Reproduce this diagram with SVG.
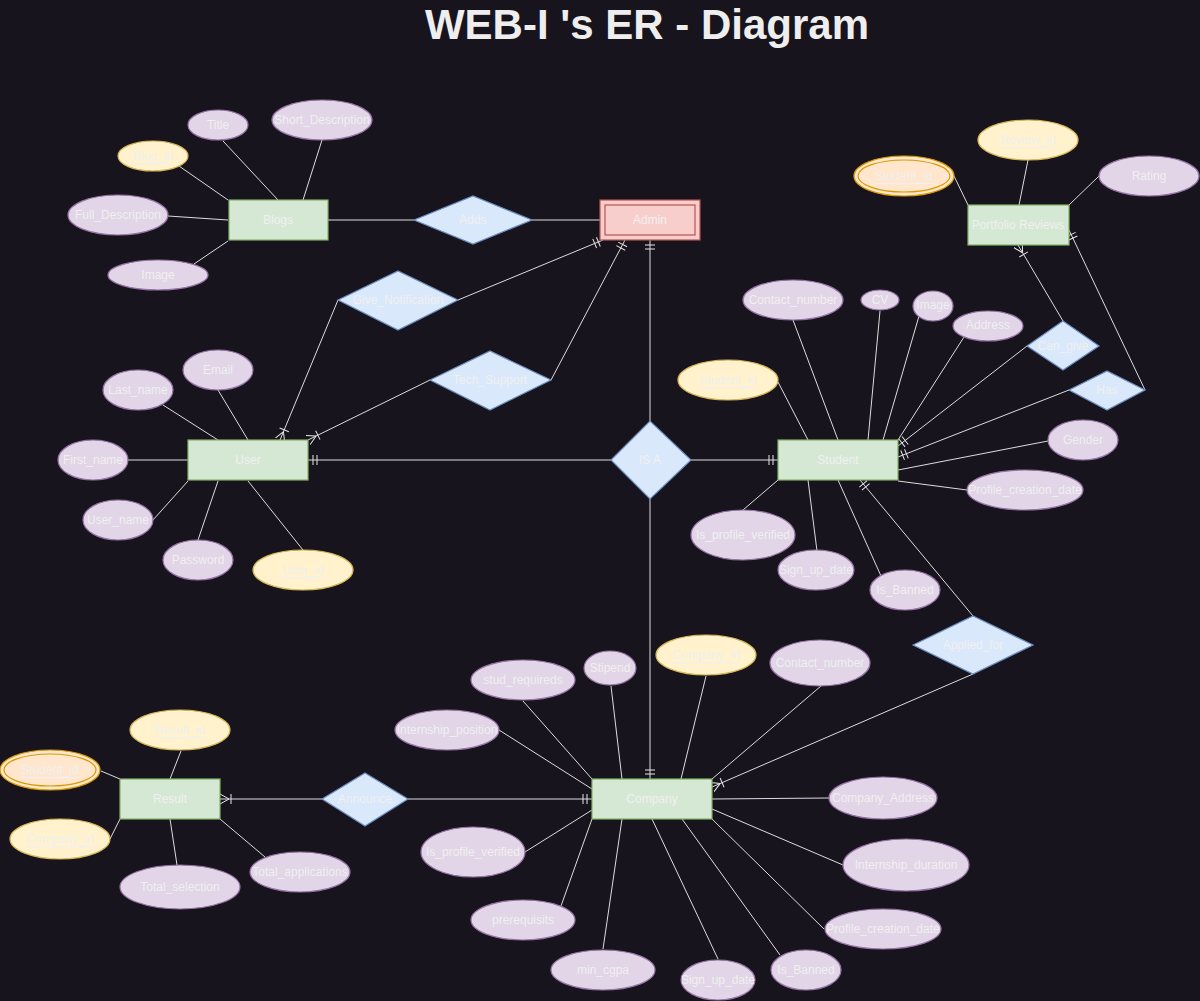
<svg xmlns="http://www.w3.org/2000/svg" width="1200" height="1001" viewBox="0 0 1200 1001">
<style>
.ent{fill:#d5e8d4;stroke:#82b366;stroke-width:1.2}
.adm{fill:#f8cecc;stroke:#b85450;stroke-width:1.2}
.rel{fill:#dae8fc;stroke:#6c8ebf;stroke-width:1.2}
.att{fill:#e1d5e7;stroke:#9673a6;stroke-width:1.2}
.key{fill:#fff2cc;stroke:#d6b656;stroke-width:1.2}
.wk{fill:#ffe6cc;stroke:#d79b00;stroke-width:1.2}
text{font-family:"Liberation Sans",Arial,sans-serif;font-size:12px;fill:#f0f0f0;text-anchor:middle;dominant-baseline:central}
.u{text-decoration:underline}
.title{font-size:42px;font-weight:bold;fill:#eeeeee}
.ln{stroke:#dcdcdc;stroke-width:1;fill:none}
.mk{stroke:#e6e6e6;stroke-width:1;fill:none}
</style>
<defs>
<marker id="one" markerUnits="userSpaceOnUse" markerWidth="14" markerHeight="14" viewBox="0 -7 14 14" refX="14" refY="0" orient="auto">
<path class="mk" d="M5,-5V5M9,-5V5"/>
</marker>
<marker id="many" markerUnits="userSpaceOnUse" markerWidth="14" markerHeight="14" viewBox="0 -7 14 14" refX="14" refY="0" orient="auto">
<path class="mk" d="M5,0L14,-5M5,0L14,5M3,-5V5"/>
</marker>
</defs>
<rect width="1200" height="1001" fill="#18141d"/>
<text class="title" x="647" y="24">WEB-I 's ER - Diagram</text>

<g id="connectors">
<!-- Blogs attrs -->
<line class="ln" x1="179" y1="166" x2="228" y2="200"/>
<line class="ln" x1="223" y1="141" x2="278" y2="200"/>
<line class="ln" x1="322" y1="140" x2="303" y2="200"/>
<line class="ln" x1="168" y1="216" x2="228" y2="220"/>
<line class="ln" x1="194" y1="264" x2="228" y2="241"/>
<line class="ln" x1="328" y1="220" x2="414" y2="220"/>
<line class="ln" x1="532" y1="220" x2="600" y2="220"/>
<!-- Portfolio attrs -->
<line class="ln" x1="954" y1="176" x2="968" y2="205"/>
<line class="ln" x1="1028" y1="160" x2="1019" y2="205"/>
<line class="ln" x1="1099" y1="176" x2="1069" y2="205"/>
<!-- User attrs -->
<line class="ln" x1="218" y1="390" x2="248" y2="440"/>
<line class="ln" x1="163" y1="405" x2="218" y2="440"/>
<line class="ln" x1="128" y1="460" x2="188" y2="460"/>
<line class="ln" x1="153" y1="520" x2="188" y2="481"/>
<line class="ln" x1="198" y1="540" x2="218" y2="481"/>
<line class="ln" x1="303" y1="550" x2="248" y2="481"/>
<!-- User / Admin relationships -->
<line class="ln" x1="338" y1="300" x2="280" y2="440" marker-end="url(#many)"/>
<line class="ln" x1="458" y1="300" x2="603" y2="240" marker-end="url(#one)"/>
<line class="ln" x1="430" y1="380" x2="308" y2="440" marker-end="url(#many)"/>
<line class="ln" x1="551" y1="380" x2="625" y2="240" marker-end="url(#one)"/>
<!-- IS A -->
<line class="ln" x1="650" y1="421" x2="650" y2="240" marker-end="url(#one)"/>
<line class="ln" x1="611" y1="460" x2="308" y2="460" marker-end="url(#one)"/>
<line class="ln" x1="691" y1="460" x2="778" y2="460" marker-end="url(#one)"/>
<line class="ln" x1="650" y1="499" x2="650" y2="779" marker-end="url(#one)"/>
<!-- Student attrs -->
<line class="ln" x1="793" y1="320" x2="838" y2="440"/>
<line class="ln" x1="880" y1="311" x2="868" y2="440"/>
<line class="ln" x1="919" y1="316" x2="883" y2="440"/>
<line class="ln" x1="964" y1="337" x2="898" y2="440"/>
<line class="ln" x1="1048" y1="441" x2="898" y2="470"/>
<line class="ln" x1="967" y1="490" x2="898" y2="481"/>
<line class="ln" x1="778" y1="382" x2="808" y2="440"/>
<line class="ln" x1="743" y1="510" x2="778" y2="480"/>
<line class="ln" x1="817" y1="551" x2="808" y2="480"/>
<line class="ln" x1="881" y1="576" x2="838" y2="480"/>
<!-- Student relationships -->
<line class="ln" x1="1027" y1="346" x2="898" y2="446" marker-end="url(#one)"/>
<line class="ln" x1="1069" y1="390" x2="898" y2="457" marker-end="url(#one)"/>
<line class="ln" x1="1063" y1="321" x2="1018" y2="245" marker-end="url(#many)"/>
<line class="ln" x1="1145" y1="390" x2="1069" y2="230" marker-end="url(#one)"/>
<line class="ln" x1="973" y1="616" x2="860" y2="480" marker-end="url(#one)"/>
<line class="ln" x1="973" y1="674" x2="712" y2="787" marker-end="url(#many)"/>
<!-- Company attrs -->
<line class="ln" x1="611" y1="686" x2="622" y2="779"/>
<line class="ln" x1="523" y1="701" x2="592" y2="779"/>
<line class="ln" x1="499" y1="730" x2="592" y2="789"/>
<line class="ln" x1="706" y1="676" x2="681" y2="779"/>
<line class="ln" x1="821" y1="686" x2="712" y2="779"/>
<line class="ln" x1="829" y1="798" x2="712" y2="799"/>
<line class="ln" x1="525" y1="852" x2="592" y2="810"/>
<line class="ln" x1="561" y1="906" x2="592" y2="819"/>
<line class="ln" x1="603" y1="949" x2="622" y2="819"/>
<line class="ln" x1="718" y1="959" x2="652" y2="819"/>
<line class="ln" x1="780" y1="955" x2="682" y2="819"/>
<line class="ln" x1="824" y1="929" x2="712" y2="819"/>
<line class="ln" x1="843" y1="865" x2="712" y2="809"/>
<!-- Result -->
<line class="ln" x1="181" y1="751" x2="170" y2="779"/>
<line class="ln" x1="101" y1="771" x2="120" y2="779"/>
<line class="ln" x1="110" y1="839" x2="120" y2="819"/>
<line class="ln" x1="177" y1="865" x2="170" y2="819"/>
<line class="ln" x1="265" y1="857" x2="220" y2="819"/>
<line class="ln" x1="322" y1="799" x2="220" y2="799" marker-end="url(#many)"/>
<line class="ln" x1="408" y1="799" x2="592" y2="799" marker-end="url(#one)"/>
</g>

<!-- Entities -->
<g id="blogs"><rect class="ent" x="229" y="200" width="99" height="40"/><text x="278" y="220">Blogs</text></g>
<g id="admin"><rect class="adm" x="600" y="200" width="100" height="40"/><rect class="adm" x="605" y="205" width="90" height="30"/><text x="650" y="220">Admin</text></g>
<g id="portfolio"><rect class="ent" x="968" y="205" width="101" height="40"/><text x="1018" y="225">Portfolio Reviews</text></g>
<g id="user"><rect class="ent" x="188" y="440" width="120" height="40"/><text x="248" y="460">User</text></g>
<g id="student"><rect class="ent" x="778" y="440" width="120" height="40"/><text x="838" y="460">Student</text></g>
<g id="result"><rect class="ent" x="120" y="779" width="100" height="40"/><text x="170" y="799">Result</text></g>
<g id="company"><rect class="ent" x="592" y="779" width="120" height="40"/><text x="652" y="799">Company</text></g>

<!-- Relationships -->
<g id="adds"><polygon class="rel" points="414,220 473,196 532,220 473,244"/><text x="473" y="220">Adds</text></g>
<g id="give_notification"><polygon class="rel" points="338,300 398,271 458,300 398,330"/><text x="398" y="300">Give_Notification</text></g>
<g id="tech_support"><polygon class="rel" points="430,380 490,351 551,380 490,410"/><text x="490" y="380">Tech_Support</text></g>
<g id="is_a"><polygon class="rel" points="611,460 650,421 691,460 650,499"/><text x="650" y="460">IS A</text></g>
<g id="can_give"><polygon class="rel" points="1027,346 1063,321 1099,346 1063,370"/><text x="1063" y="346">Can_give</text></g>
<g id="has"><polygon class="rel" points="1069,390 1107,371 1145,390 1107,410"/><text x="1107" y="390">Has</text></g>
<g id="applied_for"><polygon class="rel" points="913,645 973,616 1033,645 973,674"/><text x="973" y="645">Applied_for</text></g>
<g id="announce"><polygon class="rel" points="322,799 365,773 408,799 365,826"/><text x="365" y="799">Announce</text></g>

<!-- Blogs attributes -->
<g id="blog_id"><ellipse class="key" cx="153" cy="156" rx="35" ry="15"/><text class="u" x="153" y="156">Blog_id</text></g>
<g id="blog_title"><ellipse class="att" cx="218" cy="125" rx="30" ry="15"/><text x="218" y="125">Title</text></g>
<g id="blog_short"><ellipse class="att" cx="322" cy="120" rx="50" ry="20"/><text x="322" y="120">Short_Description</text></g>
<g id="blog_full"><ellipse class="att" cx="118" cy="215" rx="50" ry="20"/><text x="118" y="215">Full_Description</text></g>
<g id="blog_image"><ellipse class="att" cx="158" cy="275" rx="50" ry="15"/><text x="158" y="275">Image</text></g>

<!-- Portfolio attributes -->
<g id="pr_student_id"><ellipse class="wk" cx="904" cy="176" rx="50" ry="20"/><ellipse class="wk" cx="904" cy="176" rx="46" ry="16"/><text class="u" x="904" y="176">Student_id</text></g>
<g id="pr_review_id"><ellipse class="key" cx="1028" cy="140" rx="50" ry="20"/><text class="u" x="1028" y="140">Review_id</text></g>
<g id="pr_rating"><ellipse class="att" cx="1149" cy="176" rx="50" ry="20"/><text x="1149" y="176">Rating</text></g>

<!-- User attributes -->
<g id="u_email"><ellipse class="att" cx="218" cy="370" rx="35" ry="20"/><text x="218" y="370">Email</text></g>
<g id="u_last"><ellipse class="att" cx="138" cy="390" rx="35" ry="20"/><text x="138" y="390">Last_name</text></g>
<g id="u_first"><ellipse class="att" cx="93" cy="460" rx="35" ry="20"/><text x="93" y="460">First_name</text></g>
<g id="u_username"><ellipse class="att" cx="118" cy="520" rx="35" ry="20"/><text x="118" y="520">User_name</text></g>
<g id="u_password"><ellipse class="att" cx="198" cy="560" rx="35" ry="20"/><text x="198" y="560">Password</text></g>
<g id="u_id"><ellipse class="key" cx="303" cy="570" rx="50" ry="20"/><text class="u" x="303" y="570">User_id</text></g>

<!-- Student attributes -->
<g id="s_contact"><ellipse class="att" cx="793" cy="300" rx="50" ry="20"/><text x="793" y="300">Contact_number</text></g>
<g id="s_cv"><ellipse class="att" cx="880" cy="300" rx="19" ry="10"/><text x="880" y="300">CV</text></g>
<g id="s_image"><ellipse class="att" cx="933" cy="306" rx="20" ry="15"/><text x="933" y="305">Image</text></g>
<g id="s_address"><ellipse class="att" cx="988" cy="326" rx="35" ry="15"/><text x="988" y="325">Address</text></g>
<g id="s_id"><ellipse class="key" cx="728" cy="380" rx="50" ry="20"/><text class="u" x="728" y="380">Student_id</text></g>
<g id="s_gender"><ellipse class="att" cx="1083" cy="440" rx="35" ry="20"/><text x="1083" y="440">Gender</text></g>
<g id="s_pcd"><ellipse class="att" cx="1025" cy="490" rx="58" ry="20"/><text x="1025" y="490">Profile_creation_date</text></g>
<g id="s_ipv"><ellipse class="att" cx="743" cy="535" rx="52" ry="25"/><text x="743" y="535">Is_profile_verified</text></g>
<g id="s_sud"><ellipse class="att" cx="816" cy="570" rx="38" ry="20"/><text x="816" y="570">Sign_up_date</text></g>
<g id="s_banned"><ellipse class="att" cx="905" cy="590" rx="35" ry="20"/><text x="905" y="590">Is_Banned</text></g>

<!-- Company attributes -->
<g id="c_stipend"><ellipse class="att" cx="610" cy="668" rx="26" ry="17"/><text x="610" y="668">Stipend</text></g>
<g id="c_stud"><ellipse class="att" cx="523" cy="680" rx="52" ry="20"/><text x="523" y="680">stud_requireds</text></g>
<g id="c_pos"><ellipse class="att" cx="447" cy="730" rx="52" ry="20"/><text x="447" y="730">Internship_position</text></g>
<g id="c_id"><ellipse class="key" cx="706" cy="655" rx="50" ry="20"/><text class="u" x="706" y="655">Company_id</text></g>
<g id="c_contact"><ellipse class="att" cx="820" cy="663" rx="50" ry="23"/><text x="820" y="663">Contact_number</text></g>
<g id="c_address"><ellipse class="att" cx="883" cy="798" rx="54" ry="21"/><text x="883" y="798">Company_Address</text></g>
<g id="c_ipv"><ellipse class="att" cx="473" cy="852" rx="52" ry="25"/><text x="473" y="852">Is_profile_verified</text></g>
<g id="c_prereq"><ellipse class="att" cx="523" cy="920" rx="52" ry="20"/><text x="523" y="920">prerequisits</text></g>
<g id="c_cgpa"><ellipse class="att" cx="603" cy="970" rx="52" ry="20"/><text x="603" y="970">min_cgpa</text></g>
<g id="c_sud"><ellipse class="att" cx="718" cy="980" rx="37" ry="20"/><text x="718" y="980">Sign_up_date</text></g>
<g id="c_banned"><ellipse class="att" cx="806" cy="970" rx="35" ry="20"/><text x="806" y="970">Is_Banned</text></g>
<g id="c_pcd"><ellipse class="att" cx="883" cy="929" rx="58" ry="20"/><text x="883" y="929">Profile_creation_date</text></g>
<g id="c_duration"><ellipse class="att" cx="906" cy="865" rx="63" ry="26"/><text x="906" y="865">Internship_duration</text></g>

<!-- Result attributes -->
<g id="r_id"><ellipse class="key" cx="180" cy="730" rx="50" ry="20"/><text class="u" x="180" y="730">Result_id</text></g>
<g id="r_student_id"><ellipse class="wk" cx="50" cy="770" rx="50" ry="20"/><ellipse class="wk" cx="50" cy="770" rx="46" ry="16"/><text class="u" x="50" y="770">Student_id</text></g>
<g id="r_company_id"><ellipse class="key" cx="60" cy="839" rx="50" ry="20"/><text class="u" x="60" y="839">Company_id</text></g>
<g id="r_total_sel"><ellipse class="att" cx="180" cy="887" rx="60" ry="22"/><text x="180" y="887">Total_selection</text></g>
<g id="r_total_app"><ellipse class="att" cx="300" cy="872" rx="50" ry="20"/><text x="300" y="872">Total_applications</text></g>
</svg>
